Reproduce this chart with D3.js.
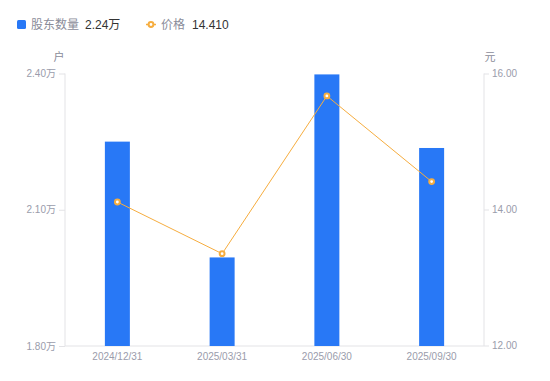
<!DOCTYPE html>
<html><head><meta charset="utf-8">
<script src="https://cdn.jsdelivr.net/npm/d3@7/dist/d3.min.js"></script>
<style>
html,body{margin:0;padding:0;background:#fff;}
svg{display:block;font-family:"Liberation Sans","Noto Sans CJK SC",Arial,sans-serif;}
</style></head>
<body>
<svg id="chart" width="550" height="381"></svg>
<script>
const categories = ["2024/12/31","2025/03/31","2025/06/30","2025/09/30"];
const holders = [2.25, 1.995, 2.398, 2.236];   // 万户
const prices = [14.11, 13.35, 15.67, 14.41];   // 元
const leftTicks = [1.80, 2.10, 2.40];
const rightTicks = [12, 14, 16];
const legendHolders = "2.24万";
const legendPrice = "14.410";

const barColor = "#2878f6", lineColor = "#f6ad3f";
const axisColor = "#e3e3e6", tickText = "#9a9cab";
const svg = d3.select("#chart");
const L = 65, R = 484, T = 73.5, B = 346;

const x = d3.scaleBand().domain(categories).range([L, R]).paddingInner(0).paddingOuter(0);
const yL = d3.scaleLinear().domain([1.80, 2.40]).range([B, T]);
const yR = d3.scaleLinear().domain([12, 16]).range([B - 0.5, T]);
const bw = 25;

// axes
const gL = svg.append("g").attr("transform", `translate(${L},0)`)
  .call(d3.axisLeft(yL).tickValues(leftTicks).tickSize(6).tickPadding(3).tickFormat(d => d.toFixed(2) + "万"));
const gR = svg.append("g").attr("transform", `translate(${R},0)`)
  .call(d3.axisRight(yR).tickValues(rightTicks).tickSize(5).tickPadding(3).tickFormat(d => d.toFixed(2)));
const gB = svg.append("g").attr("transform", `translate(0,${B})`)
  .call(d3.axisBottom(x).tickSize(0).tickPadding(7));
[gL, gR, gB].forEach(g => {
  g.selectAll(".domain").attr("stroke", axisColor);
  g.selectAll(".tick line").attr("stroke", axisColor);
  g.selectAll("text").attr("fill", tickText).attr("font-size", 10)
    .attr("font-family", '"Liberation Sans","Noto Sans CJK SC",Arial,sans-serif');
});
gL.select(".domain").attr("d", `M0,${T}V${B}`);
gR.select(".domain").attr("d", `M0,${T}V${B}`);
gB.select(".domain").attr("d", `M${L},0H${R}`);

// bars
svg.append("g").selectAll("rect").data(holders).join("rect")
  .attr("x", (d, i) => x(categories[i]) + x.bandwidth() / 2 - bw / 2)
  .attr("width", bw)
  .attr("y", d => yL(d))
  .attr("height", d => B - yL(d))
  .attr("fill", barColor);

// line
const line = d3.line().x((d, i) => x(categories[i]) + x.bandwidth() / 2).y(d => yR(d));
svg.append("path").datum(prices).attr("d", line)
  .attr("fill", "none").attr("stroke", lineColor).attr("stroke-width", 1);
svg.append("g").selectAll("circle").data(prices).join("circle")
  .attr("cx", (d, i) => x(categories[i]) + x.bandwidth() / 2)
  .attr("cy", d => yR(d)).attr("r", 2.4)
  .attr("fill", "#fff").attr("stroke", lineColor).attr("stroke-width", 2);

// unit labels
svg.append("text").attr("x", 59).attr("y", 61).attr("text-anchor", "middle")
  .attr("font-size", 11).attr("fill", "#8a8c99").attr("font-family", '"Noto Sans CJK SC",sans-serif').text("户");
svg.append("text").attr("x", 490).attr("y", 61).attr("text-anchor", "middle")
  .attr("font-size", 11).attr("fill", "#8a8c99").attr("font-family", '"Noto Sans CJK SC",sans-serif').text("元");

// legend
const lg = svg.append("g").attr("font-size", 12);
lg.append("rect").attr("x", 17).attr("y", 20).attr("width", 9).attr("height", 9).attr("rx", 1.5).attr("fill", barColor);
lg.append("text").attr("x", 31).attr("y", 29).attr("fill", "#8a8c99")
  .attr("font-family", '"Noto Sans CJK SC",sans-serif').text("股东数量");
lg.append("text").attr("x", 85).attr("y", 29).attr("fill", "#333").text(legendHolders);
lg.append("line").attr("x1", 146).attr("x2", 156).attr("y1", 24.5).attr("y2", 24.5)
  .attr("stroke", lineColor).attr("stroke-width", 1.5);
lg.append("circle").attr("cx", 151).attr("cy", 24.5).attr("r", 2.4)
  .attr("fill", "#fff").attr("stroke", lineColor).attr("stroke-width", 2);
lg.append("text").attr("x", 161).attr("y", 29).attr("fill", "#8a8c99")
  .attr("font-family", '"Noto Sans CJK SC",sans-serif').text("价格");
lg.append("text").attr("x", 192).attr("y", 29).attr("fill", "#333").text(legendPrice);
</script>
</body></html>
